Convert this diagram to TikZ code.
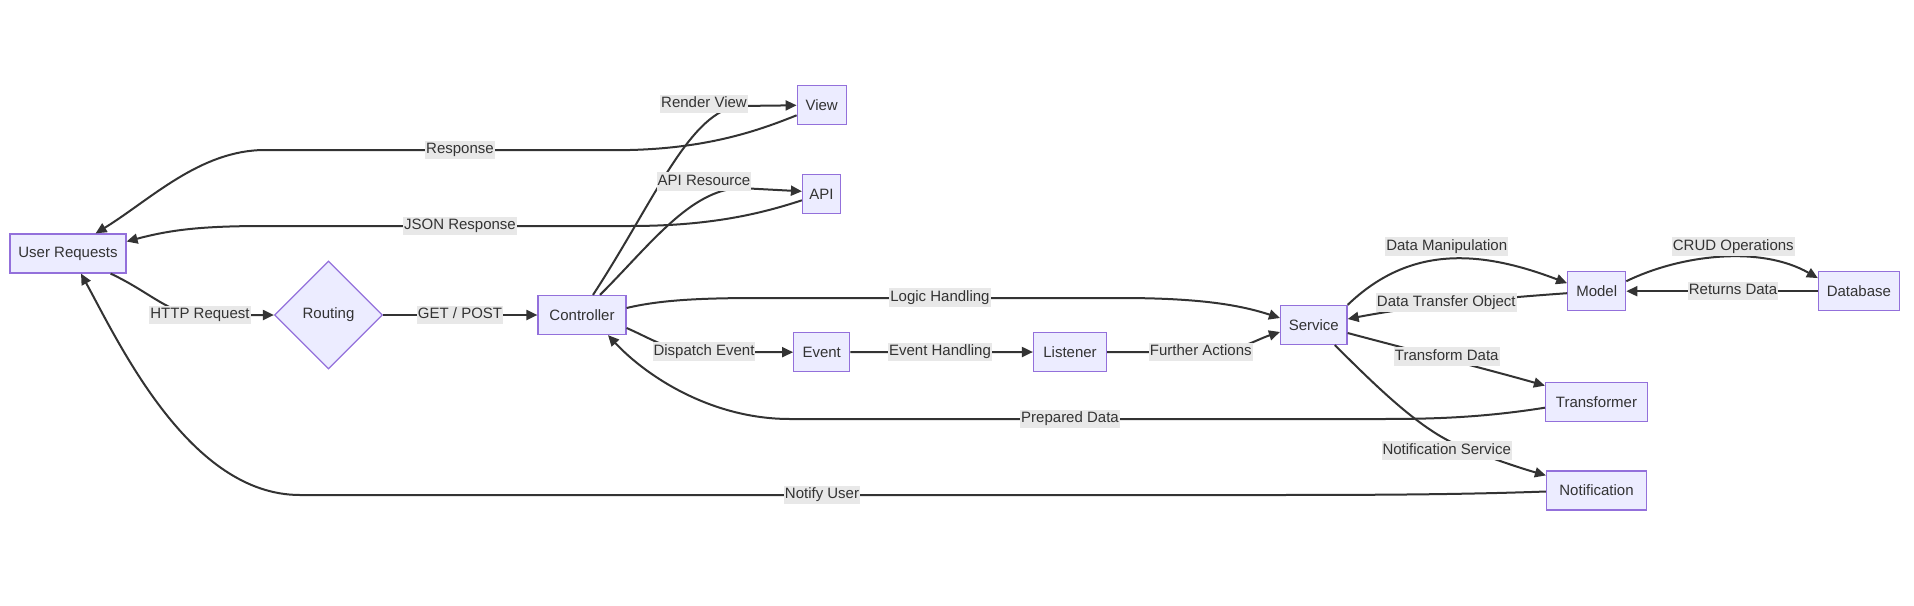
\documentclass[tikz,border=0pt]{standalone}
\usepackage{fontspec}
\setmainfont{Liberation Sans}
\usetikzlibrary{arrows.meta,shapes.geometric,calc}
\definecolor{nodefill}{HTML}{ECECFF}
\definecolor{nodeline}{HTML}{9370DB}
\definecolor{edgecol}{HTML}{333333}
\definecolor{lblbg}{HTML}{E8E8E8}
\definecolor{txt}{HTML}{333333}
\newcommand{\dfont}{\fontsize{15}{18}\selectfont}
\begin{document}
\begin{tikzpicture}[x=1pt,y=-1pt,
  box/.style={draw=nodeline,fill=nodefill,line width=1.2pt,minimum height=39pt,inner xsep=2pt,text=txt,font=\dfont},
  rhomb/.style={diamond,aspect=1,draw=nodeline,fill=nodefill,line width=1.2pt,minimum width=108pt,minimum height=108pt,inner sep=0pt,text=txt,font=\dfont},
  lbl/.style={fill=lblbg,text=txt,inner xsep=1pt,inner ysep=2pt,font=\dfont,text height=11pt,text depth=3.5pt},
  conn/.style={draw=edgecol,line width=2pt,-{Triangle[length=11pt,width=10pt]}}]
\useasboundingbox (0,0) rectangle (1914,605);
% nodes
\node[box,minimum width=116pt] (ur) at (68,253.5) {User Requests};
\node[rhomb] (routing) at (328.5,315) {Routing};
\node[box,minimum width=88pt] (ctrl) at (582,315) {Controller};
\node[box,minimum width=49pt] (view) at (821.7,105.3) {View};
\node[box,minimum width=38pt] (api) at (821.5,194.3) {API};
\node[box,minimum width=56pt] (event) at (821.7,352.2) {Event};
\node[box,minimum width=73pt] (listener) at (1070,352) {Listener};
\node[box,minimum width=66.5pt] (service) at (1313.8,325) {Service};
\node[box,minimum width=58pt] (model) at (1596.7,291.2) {Model};
\node[box,minimum width=81pt] (db) at (1858.9,291.2) {Database};
\node[box,minimum width=102pt] (transformer) at (1596.5,401.7) {Transformer};
\node[box,minimum width=100pt] (notif) at (1596.5,490.5) {Notification};
% edges
\draw[conn] ($(ur.south east)+(-16,0)$) .. controls (150,292) and (170,315) .. (200,315) -- (routing.west);
\draw[conn] (routing.east) -- (ctrl.west);
\draw[conn] ($(ctrl.north)+(11,0)$) .. controls (655,200) and (690,110) .. (740,106) -- (view.west);
\draw[conn] ($(ctrl.north)+(18,0)$) .. controls (650,245) and (690,190) .. (740,188) -- ($(api.west)+(0,-3)$);
\draw[conn] ($(view.west)+(0,10)$) .. controls (760,130) and (710,148) .. (630,150) -- (265,150) .. controls (200,150) and (150,200) .. ($(ur.north east)+(-31,0)$);
\draw[conn] ($(api.west)+(0,6)$) .. controls (760,214) and (710,226) .. (630,226) -- (265,226) .. controls (200,226) and (170,230) .. ($(ur.east)+(0,-12)$);
\draw[conn] ($(ctrl.east)+(0,-7)$) .. controls (660,300) and (700,298) .. (760,298) -- (1120,298) .. controls (1200,298) and (1240,305) .. ($(service.west)+(0,-7)$);
\draw[conn] ($(ctrl.east)+(0,13)$) .. controls (650,338) and (670,352) .. (700,352) -- (event.west);
\draw[conn] (event.east) -- (listener.west);
\draw[conn] (listener.east) -- (1200,352) .. controls (1240,352) and (1255,340) .. ($(service.west)+(0,7)$);
\draw[conn] ($(transformer.west)+(0,6)$) .. controls (1480,418) and (1430,419) .. (1380,419) -- (790,419) .. controls (710,419) and (645,375) .. ($(ctrl.south)+(26,0)$);
\draw[conn] (service.north east) .. controls (1410,245) and (1480,250) .. ($(model.west)+(0,-8)$);
\draw[conn] ($(model.west)+(0,2)$) .. controls (1500,298) and (1420,305) .. ($(service.east)+(0,-6)$);
\draw[conn] ($(model.east)+(0,-10)$) .. controls (1680,255) and (1760,245) .. ($(db.north west)+(0,7)$);
\draw[conn] (db.west) -- (model.east);
\draw[conn] ($(service.east)+(0,8)$) .. controls (1400,347) and (1490,370) .. ($(transformer.north west)+(0,4)$);
\draw[conn] ($(service.south)+(21,0)$) .. controls (1375,385) and (1420,430) .. (1460,446) .. controls (1490,458) and (1520,468) .. ($(notif.north west)+(0,5)$);
\draw[conn] ($(notif.west)+(0,1)$) .. controls (1450,495) and (1350,495) .. (1250,495) -- (300,495) .. controls (190,495) and (120,345) .. ($(ur.south)+(13,0)$);
% labels
\node[lbl] (l1) at (200,315) {HTTP Request};
\node[lbl] (l2) at (460,315) {GET / POST};
\node[lbl] (l3) at (704,104) {Render View};
\node[lbl] (l4) at (704,181.7) {API Resource};
\node[lbl] (l5) at (460,150) {Response};
\node[lbl] (l6) at (460,226) {JSON Response};
\node[lbl] (l7) at (940,297.7) {Logic Handling};
\node[lbl] (l8) at (704,351.7) {Dispatch Event};
\node[lbl] (l9) at (940,352) {Event Handling};
\node[lbl] (l10) at (1200.8,352) {Further Actions};
\node[lbl] (l11) at (1070,419) {Prepared Data};
\node[lbl] (l12) at (1446.7,246.7) {Data Manipulation};
\node[lbl] (l13) at (1446.3,302.7) {Data Transfer Object};
\node[lbl] (l14) at (1733.3,246.7) {CRUD Operations};
\node[lbl] (l15) at (1733,291) {Returns Data};
\node[lbl] (l16) at (1446.7,356.7) {Transform Data};
\node[lbl] (l17) at (1446.7,450.7) {Notification Service};
\node[lbl] (l18) at (822,495) {Notify User};
\end{tikzpicture}
\end{document}
